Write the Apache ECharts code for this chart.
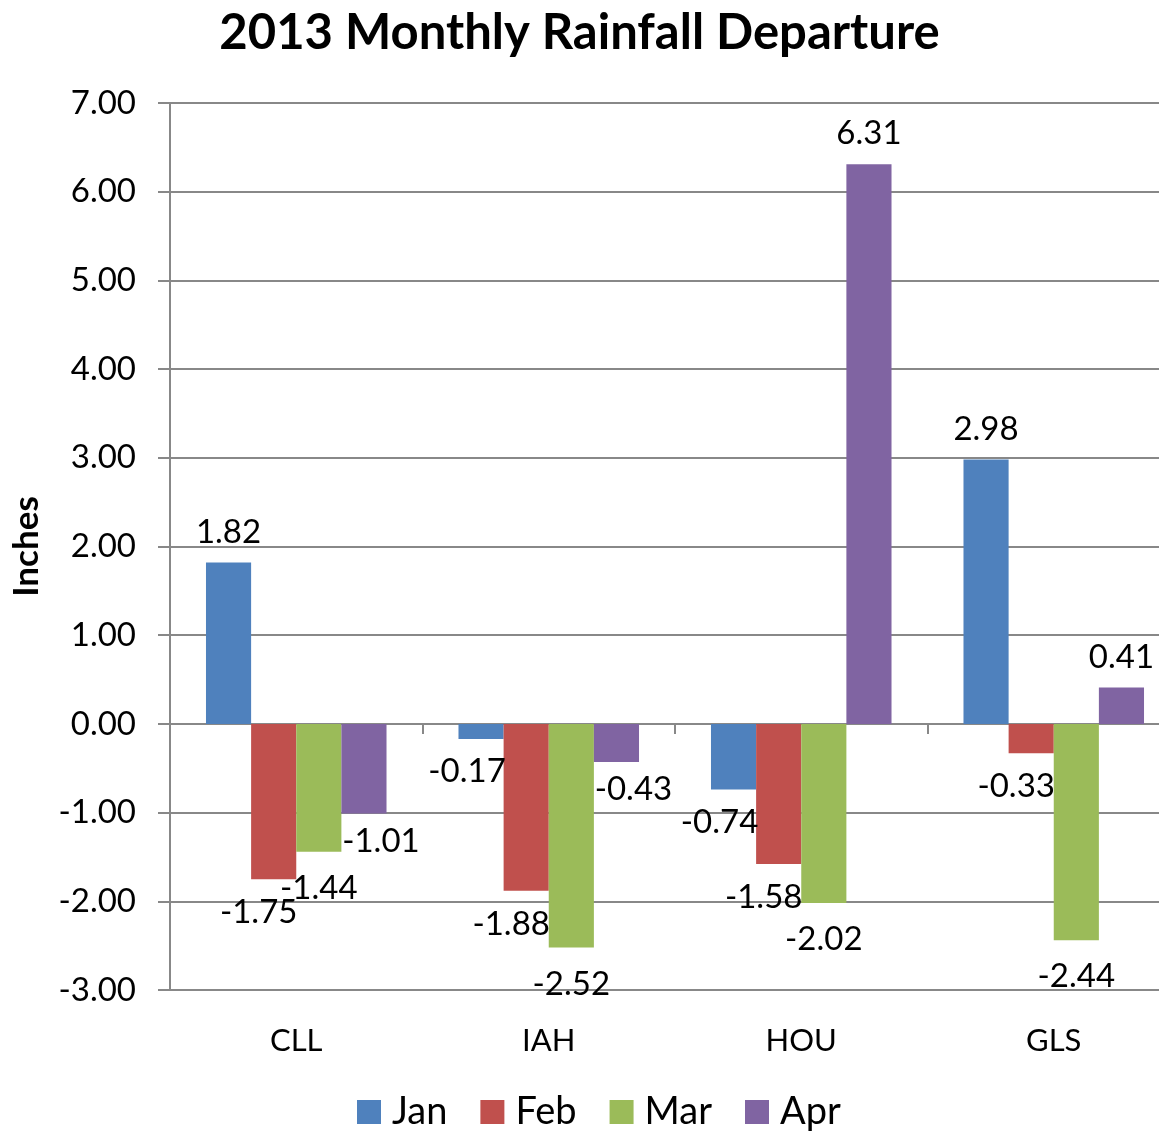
<!DOCTYPE html>
<html>
<head>
<meta charset="utf-8">
<script src="https://cdn.jsdelivr.net/npm/echarts@6/dist/echarts.min.js"></script>
<style>
  html, body { margin: 0; padding: 0; background: #fff; }
  #chart { width: 1159px; height: 1132px; }
</style>
</head>
<body>
<div id="chart"></div>
<script>
// stations and monthly departures (inches)
var stations = ['CLL', 'IAH', 'HOU', 'GLS'];
var months = ['Jan', 'Feb', 'Mar', 'Apr'];
var jan = [1.82, -0.17, -0.74, 2.98];
var feb = [-1.75, -1.88, -1.58, -0.33];
var mar = [-1.44, -2.52, -2.02, -2.44];
var apr = [-1.01, -0.43, 6.31, 0.41];
var yTicks = [-3, -2, -1, 0, 1, 2, 3, 4, 5, 6, 7];

var colors = ['#4F81BD', '#C0504D', '#9BBB59', '#8064A2'];
// excel puts the negative labels a bit off the bar end, per series
var negShift = [[-14, 11], [-15, 12], [0, 15], [17, 6]];
var font = 'Lato, "Open Sans", sans-serif';

function makeSeries(name, values, idx) {
    return {
        name: name,
        type: 'bar',
        barGap: '0%',
        barCategoryGap: '28.5%',
        itemStyle: {color: colors[idx]},
        data: values.map(function(v){
            var item = {value: v};
            if (v < 0) {
                item.label = {position: 'bottom', distance: 5, offset: negShift[idx]};
            }
            return item;
        }),
        label: {
            show: true,
            position: 'top',
            distance: 14,
            color: '#000',
            fontFamily: font,
            fontSize: 33,
            formatter: function(p){ return p.value.toFixed(2); }
        }
    };
}

var chart = echarts.init(document.getElementById('chart'), null, {renderer: 'canvas'});
var option = {
    animation: false,
    backgroundColor: '#fff',
    color: colors,
    title: {
        text: '2013 Monthly Rainfall Departure',
        left: 'center',
        top: 4,
        textStyle: {fontFamily: font, fontSize: 49, fontWeight: 'bold', color: '#000'}
    },
    legend: {
        data: months,
        top: 1088,
        left: 352,
        itemWidth: 24,
        itemHeight: 24,
        itemGap: 33,
        icon: 'rect',
        textStyle: {fontFamily: font, fontSize: 38, color: '#000', padding: [0, 0, 0, 6]}
    },
    grid: {left: 170, top: 103, width: 1010, bottom: 142, outerBoundsMode: 'none', containLabel: false},
    xAxis: [{
        type: 'category',
        data: stations,
        axisLine: {onZero: true, lineStyle: {color: '#888', width: 2}},
        axisTick: {show: true, length: 10, lineStyle: {color: '#888', width: 2}},
        axisLabel: {show: false}
    }, {
        type: 'category',
        data: stations,
        position: 'bottom',
        axisLine: {show: false, onZero: false},
        axisTick: {show: false},
        axisLabel: {margin: 35, color: '#000', fontFamily: font, fontSize: 31}
    }],
    yAxis: {
        type: 'value',
        min: yTicks[0],
        max: yTicks[yTicks.length - 1],
        interval: 1,
        name: 'Inches',
        nameLocation: 'middle',
        nameRotate: 90,
        nameGap: 126,
        nameTextStyle: {fontFamily: font, fontSize: 35, fontWeight: 'bold', color: '#000'},
        axisLine: {show: true, lineStyle: {color: '#888', width: 2}},
        axisTick: {show: true, length: 12, lineStyle: {color: '#888', width: 2}},
        axisLabel: {
            margin: 34,
            color: '#000',
            fontFamily: font,
            fontSize: 33,
            formatter: function(v){ return v.toFixed(2); }
        },
        splitLine: {lineStyle: {color: '#888', width: 2}}
    },
    series: [
        makeSeries('Jan', jan, 0),
        makeSeries('Feb', feb, 1),
        makeSeries('Mar', mar, 2),
        makeSeries('Apr', apr, 3)
    ]
};
chart.setOption(option);
</script>
</body>
</html>
